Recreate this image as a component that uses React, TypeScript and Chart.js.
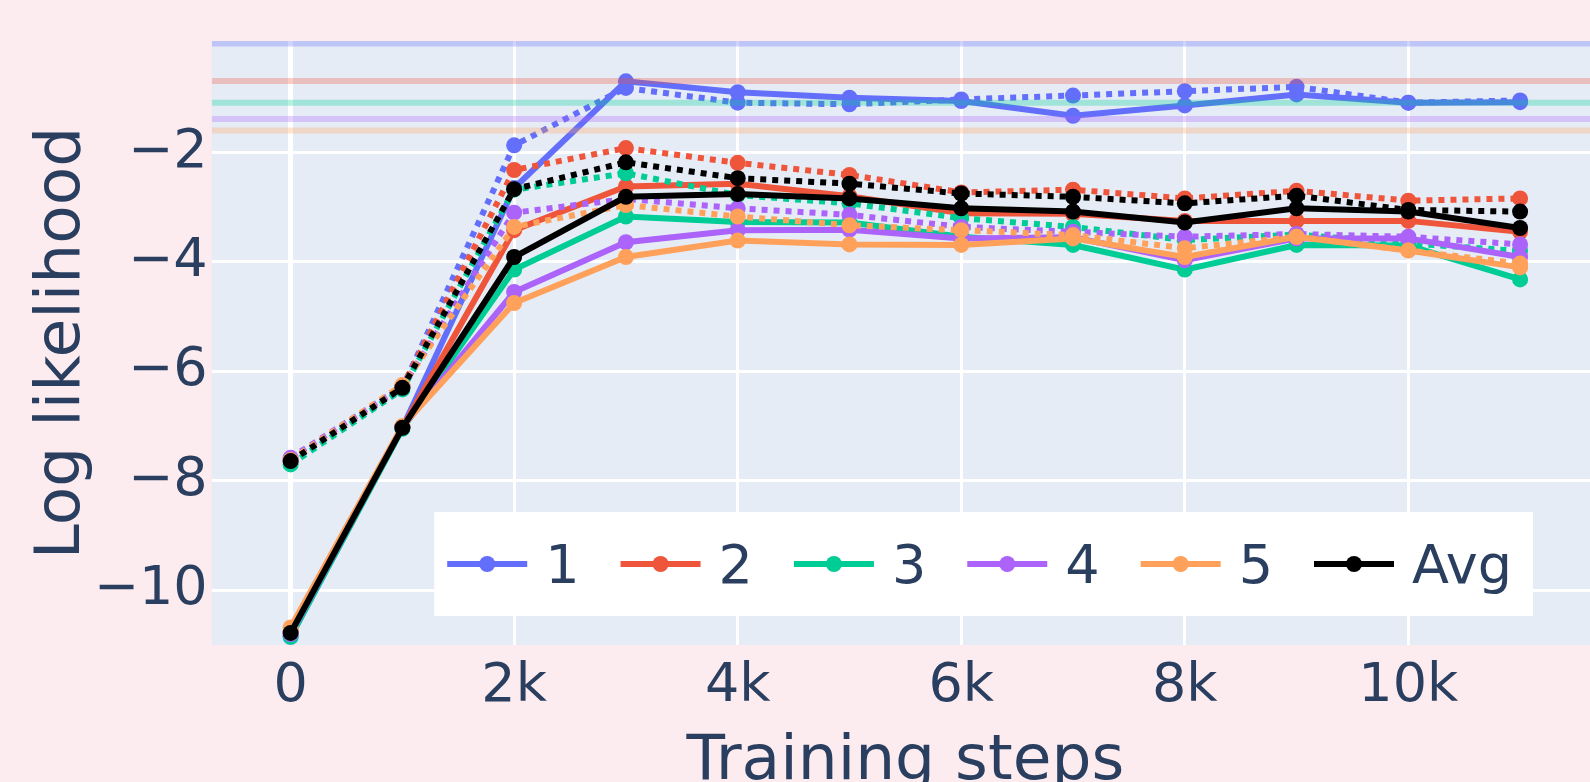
import React, { useEffect, useRef } from "react";
import { Chart, registerables } from "chart.js";

Chart.register(...registerables);

// ---------- data ----------
const steps = [0, 1000, 2000, 3000, 4000, 5000, 6000, 7000, 8000, 9000, 10000, 11000];
const seriesNames = ["1", "2", "3", "4", "5", "Avg"];
const seriesColors = ["#636efa", "#EF553B", "#00cc96", "#ab63fa", "#FFA15A", "#000000"];

const solid1 = [-10.85, -7.03, -2.65, -0.70, -0.90, -1.00, -1.06, -1.33, -1.14, -0.94, -1.09, -1.08];
const solid2 = [-10.75, -7.03, -3.42, -2.62, -2.57, -2.80, -3.11, -3.12, -3.25, -3.25, -3.25, -3.45];
const solid3 = [-10.85, -7.05, -4.14, -3.17, -3.27, -3.28, -3.54, -3.69, -4.14, -3.69, -3.70, -4.32];
const solid4 = [-10.80, -7.02, -4.55, -3.64, -3.42, -3.41, -3.57, -3.55, -3.97, -3.57, -3.57, -3.91];
const solid5 = [-10.68, -7.00, -4.75, -3.91, -3.61, -3.68, -3.69, -3.57, -3.91, -3.54, -3.79, -4.10];
const solidAvg = [-10.78, -7.03, -3.91, -2.81, -2.76, -2.84, -3.02, -3.08, -3.28, -3.02, -3.08, -3.38];

const dotted1 = [-7.65, -6.30, -1.87, -0.82, -1.09, -1.12, -1.03, -0.96, -0.88, -0.80, -1.09, -1.05];
const dotted2 = [-7.62, -6.28, -2.32, -1.92, -2.19, -2.41, -2.73, -2.68, -2.84, -2.70, -2.88, -2.84];
const dotted3 = [-7.70, -6.33, -2.68, -2.38, -2.78, -2.93, -3.20, -3.36, -3.60, -3.50, -3.66, -3.80];
const dotted4 = [-7.58, -6.28, -3.10, -2.85, -3.02, -3.14, -3.36, -3.45, -3.54, -3.49, -3.54, -3.68];
const dotted5 = [-7.62, -6.25, -3.36, -2.96, -3.17, -3.33, -3.42, -3.51, -3.75, -3.54, -3.79, -4.03];
const dottedAvg = [-7.64, -6.30, -2.67, -2.18, -2.47, -2.57, -2.75, -2.81, -2.93, -2.79, -3.05, -3.08];

// reference levels for series 1..5
const refValues = [-0.01, -0.694, -1.091, -1.388, -1.598];

const xTicks = [0, 2000, 4000, 6000, 8000, 10000];
const yTicks = [-10, -8, -6, -4, -2];

const xTitle = "Training steps";
const yTitle = "Log likelihood";

// ---------- styling ----------
const PAPER = "#fcebef";
const PLOT_BG = "#e5ecf6";
const TEXT = "#2a3f5f";
const FONT = "'DejaVu Sans', sans-serif";
const TICK_SIZE = 54;
const TITLE_SIZE = 63;
const LINE_W = 6;
const CANVAS_W = 1599; // plot area runs slightly past the visible page edge
const VIEW_W = 1590;
const VIEW_H = 782;

const solids = [solid1, solid2, solid3, solid4, solid5, solidAvg];
const dotteds = [dotted1, dotted2, dotted3, dotted4, dotted5, dottedAvg];

function hexToRgba(hex: string, a: number) {
  const h = hex.replace("#", "");
  const r = parseInt(h.slice(0, 2), 16);
  const g = parseInt(h.slice(2, 4), 16);
  const b = parseInt(h.slice(4, 6), 16);
  return `rgba(${r},${g},${b},${a})`;
}

const bgPlugin = {
  id: "bgPlugin",
  beforeDraw(chart: any) {
    const { ctx, chartArea } = chart;
    ctx.save();
    ctx.fillStyle = PAPER;
    ctx.fillRect(0, 0, chart.width, chart.height);
    ctx.fillStyle = PLOT_BG;
    ctx.fillRect(chartArea.left, chartArea.top, chartArea.right - chartArea.left, chartArea.bottom - chartArea.top);
    ctx.restore();
  },
};

const refPlugin = {
  id: "refPlugin",
  afterDatasetsDraw(chart: any) {
    const { ctx, chartArea, scales } = chart;
    ctx.save();
    ctx.beginPath();
    ctx.rect(chartArea.left, chartArea.top, chartArea.right - chartArea.left, chartArea.bottom - chartArea.top);
    ctx.clip();
    refValues.forEach((v, i) => {
      const y = scales.y.getPixelForValue(v);
      ctx.strokeStyle = hexToRgba(seriesColors[i], 0.3);
      ctx.lineWidth = 6;
      ctx.beginPath();
      ctx.moveTo(chartArea.left, y);
      ctx.lineTo(chartArea.right, y);
      ctx.stroke();
    });
    ctx.restore();
  },
};

const legendPlugin = {
  id: "customLegend",
  afterDraw(chart: any) {
    const { ctx, chartArea } = chart;
    ctx.save();
    ctx.font = `${TICK_SIZE}px ${FONT}`;
    const lineLen = 80;
    const textOff = 98;
    const gap = 41;
    const padL = 13;
    const padR = 21;
    const widths = seriesNames.map((n) => ctx.measureText(n).width);
    let total = 0;
    widths.forEach((w, i) => {
      total += textOff + w + (i < widths.length - 1 ? gap : 0);
    });
    const boxRight = chartArea.right - 66;
    const boxBottom = chartArea.bottom - 29;
    const boxH = 104;
    const boxW = padL + total + padR;
    const boxLeft = boxRight - boxW;
    const boxTop = boxBottom - boxH;
    ctx.fillStyle = "#ffffff";
    ctx.fillRect(boxLeft, boxTop, boxW, boxH);
    const rowY = boxTop + boxH / 2;
    let x = boxLeft + padL;
    seriesNames.forEach((name, i) => {
      ctx.strokeStyle = seriesColors[i];
      ctx.lineWidth = LINE_W;
      ctx.beginPath();
      ctx.moveTo(x, rowY);
      ctx.lineTo(x + lineLen, rowY);
      ctx.stroke();
      ctx.fillStyle = seriesColors[i];
      ctx.beginPath();
      ctx.arc(x + lineLen / 2, rowY, 8, 0, Math.PI * 2);
      ctx.fill();
      ctx.fillStyle = TEXT;
      ctx.textAlign = "left";
      ctx.textBaseline = "middle";
      ctx.fillText(name, x + textOff, rowY + 5);
      x += textOff + widths[i] + gap;
    });
    ctx.restore();
  },
};

export default function App() {
  const canvasRef = useRef<HTMLCanvasElement | null>(null);

  useEffect(() => {
    if (!canvasRef.current) return;
    document.body.style.background = PAPER;

    const datasets: any[] = [];
    const n = seriesNames.length;
    seriesNames.forEach((name, i) => {
      datasets.push({
        label: name,
        data: steps.map((s, j) => ({ x: s, y: solids[i][j] })),
        borderColor: seriesColors[i],
        backgroundColor: seriesColors[i],
        borderWidth: LINE_W,
        pointRadius: 8,
        pointBorderWidth: 0,
        pointHoverRadius: 8,
        tension: 0,
        fill: false,
        order: (n - i) * 2,
      });
      datasets.push({
        label: name + " (dotted)",
        data: steps.map((s, j) => ({ x: s, y: dotteds[i][j] })),
        borderColor: seriesColors[i],
        backgroundColor: seriesColors[i],
        borderWidth: LINE_W,
        borderDash: [6, 6],
        pointRadius: 8,
        pointBorderWidth: 0,
        pointHoverRadius: 8,
        tension: 0,
        fill: false,
        order: (n - i) * 2 - 1,
      });
    });

    const chart = new Chart(canvasRef.current, {
      type: "line",
      data: { datasets },
      plugins: [bgPlugin, refPlugin, legendPlugin],
      options: {
        animation: false,
        responsive: false,
        maintainAspectRatio: false,
        events: [],
        layout: { autoPadding: false, padding: { left: 0, right: 0, top: 41, bottom: 0 } },
        plugins: {
          legend: { display: false },
          tooltip: { enabled: false },
        },
        scales: {
          x: {
            type: "linear",
            min: -706,
            max: 11706,
            afterBuildTicks: (scale: any) => {
              scale.ticks = xTicks.map((v) => ({ value: v }));
            },
            afterFit: (scale: any) => {
              scale.height = 137;
              scale.paddingLeft = 0;
              scale.paddingRight = 0;
            },
            ticks: {
              color: TEXT,
              font: { family: FONT, size: TICK_SIZE },
              padding: 10,
              maxRotation: 0,
              autoSkip: false,
              callback: (v: any) => (v === 0 ? "0" : `${v / 1000}k`),
            },
            grid: {
              color: "#ffffff",
              lineWidth: (c: any) => (c.tick && c.tick.value === 0 ? 5 : 3),
              drawTicks: false,
            },
            border: { display: false },
            title: {
              display: true,
              text: xTitle,
              color: TEXT,
              font: { family: FONT, size: TITLE_SIZE, lineHeight: 0.6 },
              padding: { top: 0, bottom: 0 },
            },
          },
          y: {
            type: "linear",
            min: -11.0,
            max: 0.037,
            afterBuildTicks: (scale: any) => {
              scale.ticks = yTicks.map((v) => ({ value: v }));
            },
            afterFit: (scale: any) => {
              scale.width = 211.7;
              scale.paddingTop = 0;
              scale.paddingBottom = 0;
            },
            ticks: {
              color: TEXT,
              font: { family: FONT, size: TICK_SIZE },
              padding: 4,
              autoSkip: false,
              callback: (v: any) => (v < 0 ? "\u2212" + Math.abs(v) : String(v)),
            },
            grid: {
              color: "#ffffff",
              lineWidth: 3,
              drawTicks: false,
            },
            border: { display: false },
            title: {
              display: true,
              text: yTitle,
              color: TEXT,
              font: { family: FONT, size: TITLE_SIZE, lineHeight: 0.6 },
              padding: { top: 44, bottom: 0 },
            },
          },
        },
      },
    } as any);

    return () => {
      chart.destroy();
    };
  }, []);

  return (
    <div
      style={{
        position: "absolute",
        left: 0,
        top: 0,
        width: VIEW_W,
        height: VIEW_H,
        background: PAPER,
        overflow: "hidden",
      }}
    >
      <canvas ref={canvasRef} width={CANVAS_W} height={VIEW_H} style={{ display: "block" }} />
    </div>
  );
}
